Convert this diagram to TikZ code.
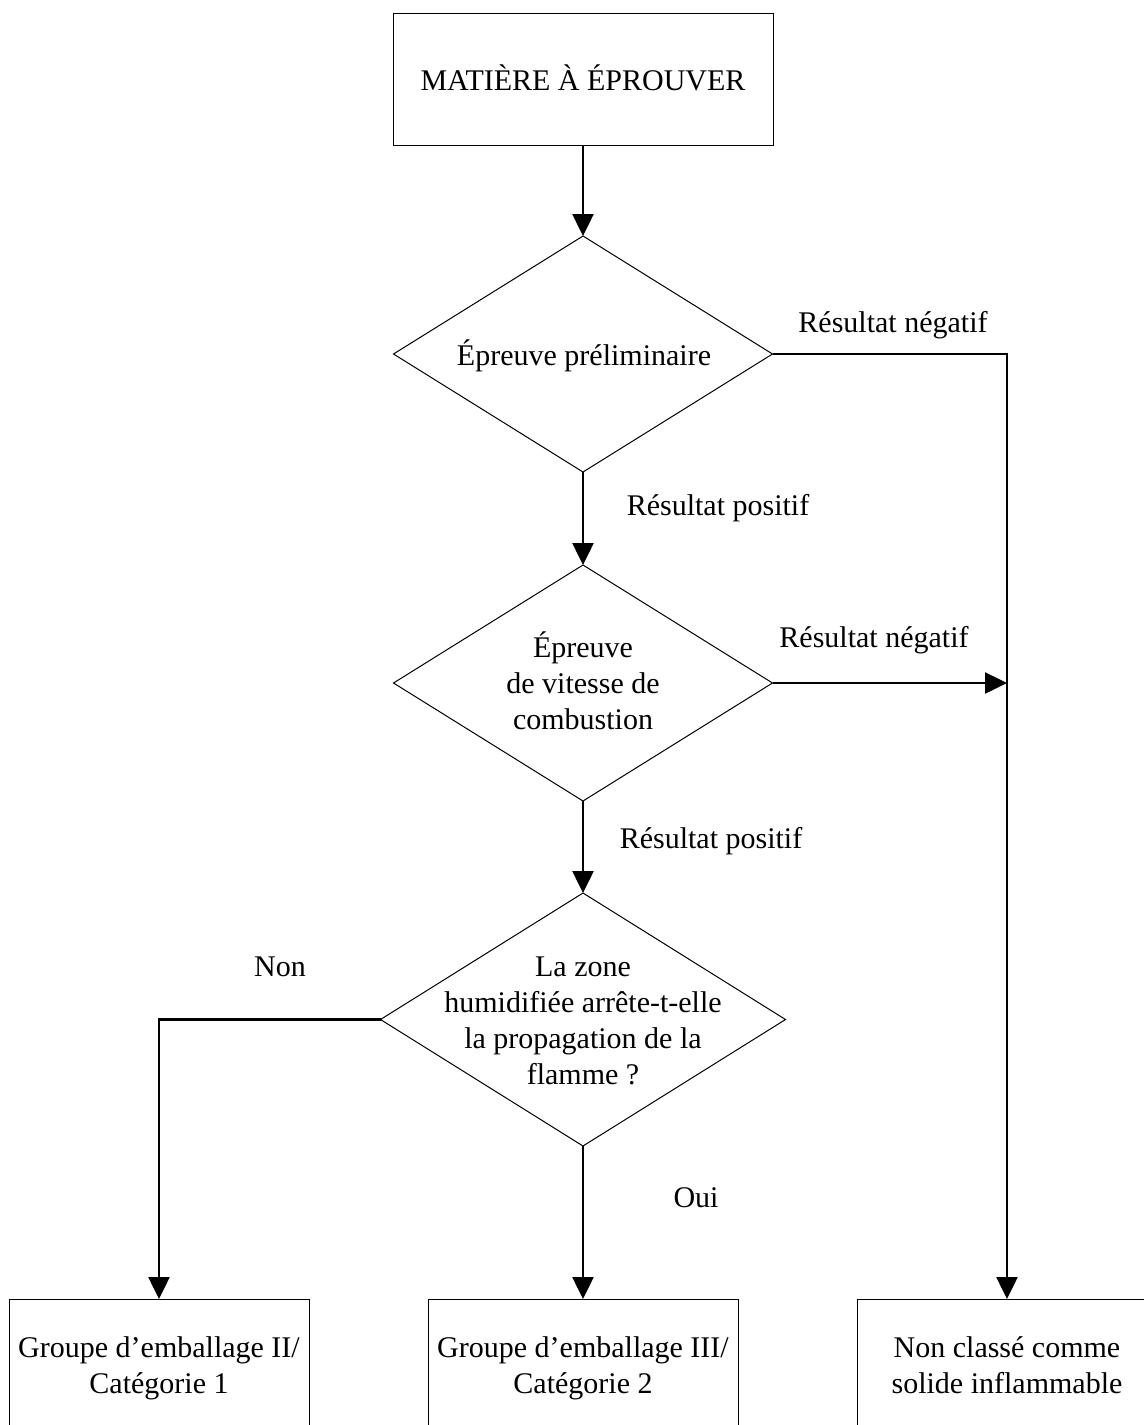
\documentclass[tikz,border=0pt]{standalone}
\usepackage{fontspec}
\setmainfont{Liberation Serif}
\usetikzlibrary{arrows.meta,shapes.geometric}
\newcommand{\mlines}[1]{\begin{tabular}[t]{@{}c@{}}#1\end{tabular}}
\begin{document}
\begin{tikzpicture}[x=0.5pt,y=-0.5pt,
  every node/.style={font=\fontsize{15pt}{18pt}\selectfont, inner sep=0pt, outer sep=0pt},
  boxnode/.style={draw, line width=0.5pt, rectangle, minimum height=66pt},
  decision/.style={draw, line width=0.5pt, diamond, minimum width=189.5pt, minimum height=118pt},
  txt/.style={anchor=base},
  flow/.style={line width=1.25pt, -{Triangle[length=11pt,width=10.5pt]}}
]
\fill[white] (0,0) rectangle (1144,1425);
\useasboundingbox (0,0) rectangle (1144,1425);
\clip (0,0) rectangle (1144,1425);

% shapes
\node[boxnode, minimum width=190pt] (top) at (583,79) {};
\node[decision] (d1) at (583,354) {};
\node[decision] (d2) at (583,683) {};
\node[decision, minimum width=202.5pt, minimum height=126.5pt] (d3) at (583,1019.5) {};
\node[boxnode, minimum width=150pt, minimum height=67pt] (b1) at (159,1366) {};
\node[boxnode, minimum width=155pt, minimum height=67pt] (b2) at (583,1366) {};
\node[boxnode, minimum width=150pt, minimum height=67pt] (b3) at (1007,1366) {};

% texts inside shapes
\node[txt] (ttop) at (583,90) {MATIÈRE À ÉPROUVER};
\node[txt] (td1) at (584,365) {Épreuve préliminaire};
\node[txt] (td2) at (583,657) {\mlines{Épreuve\\de vitesse de\\combustion}};
\node[txt] (td3) at (583,976) {\mlines{La zone\\humidifiée arrête-t-elle\\la propagation de la\\flamme ?}};
\node[txt] (tb1) at (159,1357) {\mlines{Groupe d’emballage II/\\Catégorie 1}};
\node[txt] (tb2) at (583,1357) {\mlines{Groupe d’emballage III/\\Catégorie 2}};
\node[txt] (tb3) at (1007,1357) {\mlines{Non classé comme\\solide inflammable}};

% connectors
\coordinate (c2) at (d2.east -| b3.north);
\draw[flow] (top.south) -- (d1.north);
\draw[flow] (d1.south) -- (d2.north);
\draw[flow] (d2.south) -- (d3.north);
\draw[flow] (d1.east) -| (b3.north);
\draw[flow] (d2.east) -- (c2);
\draw[flow] (d3.west) -| (b1.north);
\draw[flow] (d3.south) -- (b2.north);

% connector labels
\node[txt] (ln1) at (893,332) {Résultat négatif};
\node[txt] (lp1) at (718,515) {Résultat positif};
\node[txt] (ln2) at (874,647) {Résultat négatif};
\node[txt] (lp2) at (711,848) {Résultat positif};
\node[txt] (lnon) at (280,976) {Non};
\node[txt] (loui) at (696,1207) {Oui};
\end{tikzpicture}
\end{document}
